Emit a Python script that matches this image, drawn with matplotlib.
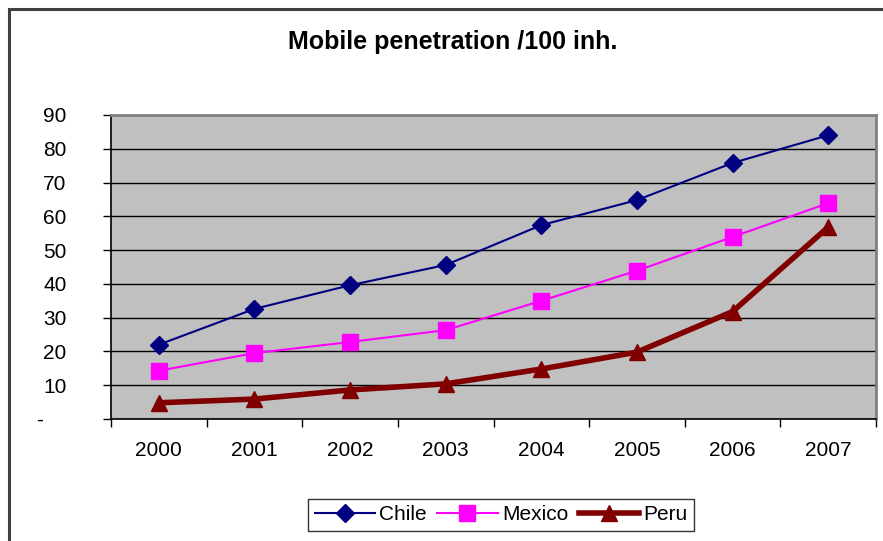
import matplotlib
matplotlib.use("Agg")
import matplotlib.pyplot as plt
from matplotlib.patches import Rectangle
import numpy as np

years = ["2000", "2001", "2002", "2003", "2004", "2005", "2006", "2007"]
chile = [22.0, 32.6, 39.6, 45.6, 57.4, 64.8, 75.8, 84.0]
mexico = [14.3, 19.5, 22.8, 26.3, 35.0, 43.9, 53.9, 63.9]
peru = [4.8, 5.9, 8.6, 10.4, 14.8, 19.8, 31.8, 56.8]
y_ticks = [0, 10, 20, 30, 40, 50, 60, 70, 80, 90]
y_labels = ["-    ", "10", "20", "30", "40", "50", "60", "70", "80", "90"]

plt.rcParams["font.family"] = ["Liberation Sans", "DejaVu Sans"]

W, H = 883, 541
fig = plt.figure(figsize=(W / 100, H / 100), dpi=100)
fig.patch.set_facecolor("white")

# outer chart frame
fig.add_artist(Rectangle((9 / W, -0.05), 1.2, 1 - 9 / H + 0.05,
                         transform=fig.transFigure, fill=False,
                         edgecolor="#404040", linewidth=2.2))

ax = fig.add_axes([111 / W, 1 - 419 / H, (876 - 111) / W, (419 - 115) / H])
ax.set_facecolor("#C0C0C0")

x = np.arange(len(years))
ax.plot(x, chile, color="#000080", linewidth=1.5, marker="D", markersize=9,
        label="Chile", zorder=3)
ax.plot(x, mexico, color="#FF00FF", linewidth=1.5, marker="s", markersize=11,
        label="Mexico", zorder=3)
ax.plot(x, peru, color="#800000", linewidth=4, marker="^", markersize=12,
        label="Peru", zorder=3)

ax.set_xlim(-0.5, len(years) - 0.5)
ax.set_ylim(0, 90)
ax.set_yticks(y_ticks)
ax.set_yticklabels(y_labels, fontsize=15)
ax.yaxis.grid(True, color="black", linewidth=1)
ax.set_axisbelow(True)

ax.set_xticks(x)
ax.set_xticklabels(years, fontsize=15)
ax.set_xticks(np.arange(-0.5, len(years)), minor=True)
ax.tick_params(axis="x", which="major", length=0, pad=16)
ax.tick_params(axis="x", which="minor", length=6, width=1, direction="out")
ax.tick_params(axis="y", length=6, width=1, direction="out", pad=26)

for side in ("left", "bottom"):
    ax.spines[side].set_color("black")
    ax.spines[side].set_linewidth(1.2)
for side in ("top", "right"):
    ax.spines[side].set_color("#808080")
    ax.spines[side].set_linewidth(2)

fig.text(453 / W, 1 - 42 / H, "Mobile penetration /100 inh.", ha="center",
         va="center", fontsize=18, fontweight="bold")

leg = fig.legend(loc="center", bbox_to_anchor=(501 / W, 1 - 515 / H), ncol=3,
                 fontsize=15, frameon=True, fancybox=False, handlelength=2.9,
                 handletextpad=0.2, columnspacing=0.5, borderpad=0.3,
                 borderaxespad=0)
leg.get_frame().set_edgecolor("black")
leg.get_frame().set_linewidth(1)

fig.savefig("out.png", dpi=100)
